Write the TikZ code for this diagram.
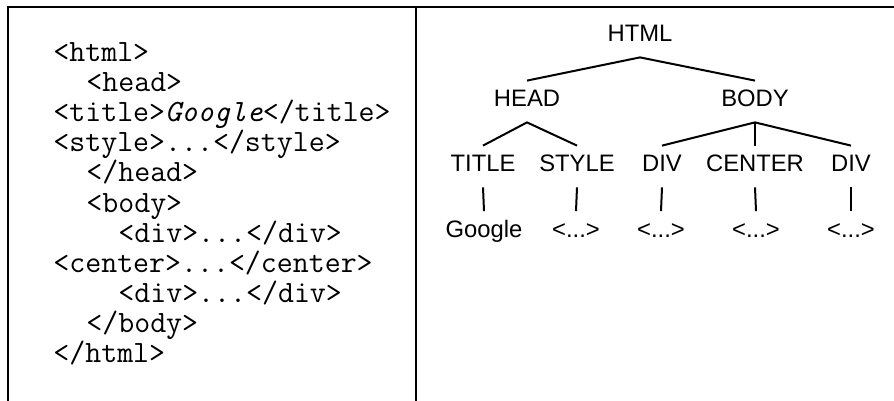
\documentclass[tikz,border=0pt]{standalone}
\usepackage{fontspec}
\setmainfont{Liberation Sans}
\usetikzlibrary{calc}

\tikzset{
  tag/.style={anchor=base, inner sep=0pt, text height=12.75pt, text depth=7.75pt,
    font=\fontsize{11.9}{14}\selectfont},
  code/.style={anchor=base west, inner sep=0pt, font=\ttfamily\fontsize{15.5}{15}\selectfont},
  edge/.style={line width=1pt},
  frame/.style={line width=1.1pt}
}

\begin{document}
\begin{tikzpicture}[x=0.5pt, y=-0.5pt]
    \useasboundingbox (0,0) rectangle (894,401);
    % frame
    \draw[frame] (8,401) -- (8,7) -- (894,7);
    \draw[frame] (416,7) -- (416,401);
    % source
    \node[code] (l1) at (53,62) {<html>};
    \node[code] (l2) at (86,92) {<head>};
    \node[code] (l3) at (53,122) {<title>\textit{Google}</title>};
    \node[code] (l4) at (53,152) {<style>...</style>};
    \node[code] (l5) at (86,182) {</head>};
    \node[code] (l6) at (86,212) {<body>};
    \node[code] (l7) at (118,242) {<div>...</div>};
    \node[code] (l8) at (53,272) {<center>...</center>};
    \node[code] (l9) at (118,302) {<div>...</div>};
    \node[code] (l10) at (86,332) {</body>};
    \node[code] (l11) at (53,362) {</html>};
    % tree
    \node[tag] (html) at (640,41.5) {HTML};
    \node[tag] (head) at (527,106.5) {HEAD};
    \node[tag] (body) at (755,106.5) {BODY};
    \node[tag] (title) at (483,171.5) {TITLE};
    \node[tag] (style) at (577,171.5) {STYLE};
    \node[tag] (diva) at (662,171.5) {DIV};
    \node[tag] (center) at (755,171.5) {CENTER};
    \node[tag] (divb) at (851,171.5) {DIV};
    \node[tag] (google) at (484,237) {Google};
    \node[tag] (stylec) at (576,237) {<...>};
    \node[tag] (divac) at (661,237) {<...>};
    \node[tag] (centerc) at (756,237) {<...>};
    \node[tag] (divbc) at (851,237) {<...>};
    \draw[edge] (head.north) -- (html.south) -- (body.north);
    \draw[edge] (title.north) -- (head.south) -- (style.north);
    \draw[edge] (diva.north) -- (body.south) -- (divb.north);
    \draw[edge] (body.south) -- (center.north);
    \draw[edge] (title.south) -- (google.north);
    \draw[edge] (style.south) -- (stylec.north);
    \draw[edge] (diva.south) -- (divac.north);
    \draw[edge] (center.south) -- (centerc.north);
    \draw[edge] (divb.south) -- (divbc.north);
\end{tikzpicture}
\end{document}
